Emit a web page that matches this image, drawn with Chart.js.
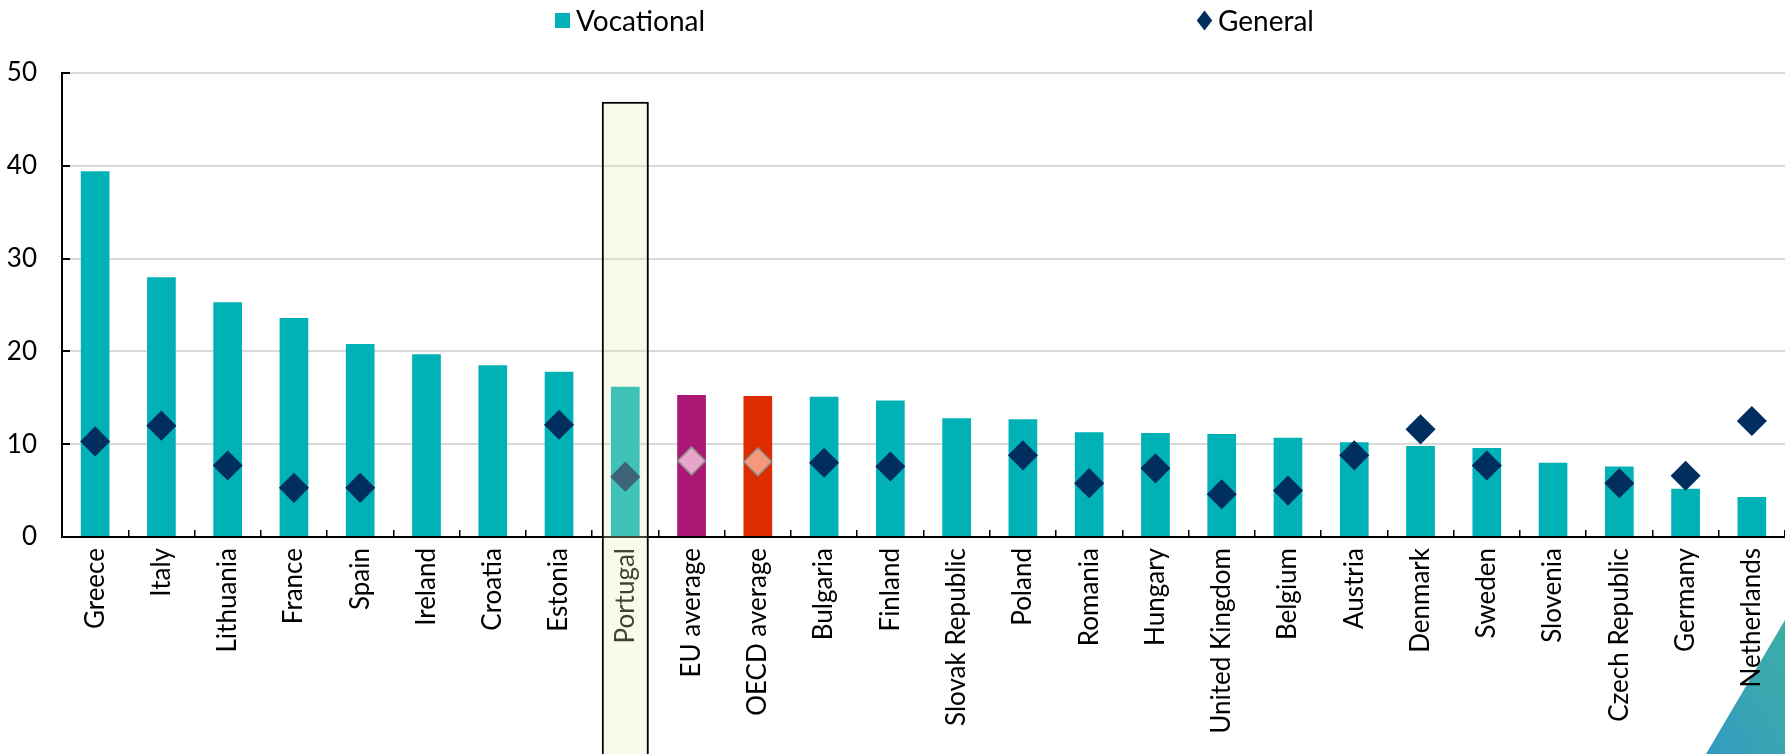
<!DOCTYPE html>
<html>
<head>
<meta charset="utf-8">
<script src="https://cdn.jsdelivr.net/npm/chart.js@4"></script>
<style>
  html, body { margin: 0; padding: 0; background: #ffffff; }
  #wrap { position: relative; width: 1785px; height: 754px; overflow: hidden; background: #ffffff; }
  #corner { position: absolute; left: 1706px; top: 620px; width: 79px; height: 134px; z-index: 0;
    clip-path: polygon(100% 0, 100% 100%, 0 100%);
    background: linear-gradient(to bottom left, #3aaea6 0%, #3aa6b0 45%, #3499c4 100%); }
  #chart { position: absolute; left: 0; top: 0; z-index: 1; }
  #legend { position: absolute; left: 0; top: 0; width: 1785px; height: 40px; z-index: 2;
    font-family: Lato, "Open Sans", sans-serif; font-size: 28px; color: #000; }
  .item { position: absolute; top: 4px; line-height: 32px; white-space: nowrap; }
  .sq { position: absolute; width: 15px; height: 15px; background: #00b2b5; top: 9px; left: 0; }
  .dm { position: absolute; width: 11px; height: 11px; background: #002f5f; top: 11px; left: 1px;
    transform: scaleY(1.3) rotate(45deg); }
  .lbl { position: absolute; left: 21px; top: 0; }
</style>
</head>
<body>
<div id="wrap">
  <div id="corner"></div>
  <canvas id="chart" width="1785" height="754"></canvas>
  <div id="legend">
    <div class="item" style="left:555px"><span class="sq"></span><span class="lbl">Vocational</span></div>
    <div class="item" style="left:1198px"><span class="dm"></span><span class="lbl" style="left:20px">General</span></div>
  </div>
</div>
<script>
const categories = ['Greece','Italy','Lithuania','France','Spain','Ireland','Croatia','Estonia','Portugal','EU average','OECD average','Bulgaria','Finland','Slovak Republic','Poland','Romania','Hungary','United Kingdom','Belgium','Austria','Denmark','Sweden','Slovenia','Czech Republic','Germany','Netherlands'];
const vocational = [39.4, 28.0, 25.3, 23.6, 20.8, 19.7, 18.5, 17.8, 16.2, 15.3, 15.2, 15.1, 14.7, 12.8, 12.7, 11.3, 11.2, 11.1, 10.7, 10.2, 9.8, 9.6, 8.0, 7.6, 5.2, 4.3];
const general = [10.3, 12.0, 7.7, 5.3, 5.3, null, null, 12.1, 6.5, 8.2, 8.1, 8.0, 7.6, null, 8.8, 5.8, 7.4, 4.6, 5.0, 8.8, 11.6, 7.7, null, 5.8, 6.6, 12.5];
const yTicks = [0, 10, 20, 30, 40, 50];
const highlightCategory = 'Portugal';
const highlightTop = 46.9;

const TEAL = '#00b2b5', NAVY = '#002f5f';
const barColors = categories.map(c => c === 'EU average' ? '#aa1774' : c === 'OECD average' ? '#dd2d00' : TEAL);
const dotColors = categories.map(c => c === 'EU average' ? '#e9a5c9' : c === 'OECD average' ? '#f4997c' : NAVY);
const dotBorders = categories.map(c => (c === 'EU average' || c === 'OECD average') ? '#8a8a8a' : NAVY);
const highlightData = categories.map(c => c === highlightCategory ? [-40, highlightTop] : null);

const FONT = 'Lato';

function draw() {
  new Chart(document.getElementById('chart'), {
    type: 'bar',
    data: {
      labels: categories,
      datasets: [
        {
          label: 'highlight',
          data: highlightData,
          backgroundColor: 'rgba(222, 240, 185, 0.28)',
          borderColor: '#000000',
          borderWidth: 2,
          borderSkipped: false,
          grouped: false,
          barPercentage: 0.71,
          categoryPercentage: 1,
          clip: false,
          order: 0
        },
        {
          type: 'line',
          label: 'General',
          data: general,
          showLine: false,
          pointStyle: 'rectRot',
          pointRadius: 14,
          pointBackgroundColor: dotColors,
          pointBorderColor: dotBorders,
          pointBorderWidth: 1.5,
          order: 1
        },
        {
          label: 'Vocational',
          data: vocational,
          backgroundColor: barColors,
          borderWidth: 0,
          grouped: false,
          barPercentage: 0.433,
          categoryPercentage: 1,
          order: 2
        }
      ]
    },
    options: {
      responsive: false,
      animation: false,
      devicePixelRatio: 1,
      layout: { autoPadding: false, padding: { top: 73, right: 0, left: 0, bottom: 0 } },
      plugins: { legend: { display: false }, tooltip: { enabled: false } },
      scales: {
        x: {
          offset: true,
          grid: { offset: true, drawOnChartArea: false, drawTicks: true, tickLength: -7, color: '#000000', lineWidth: 1.5 },
          border: { color: '#000000', width: 2 },
          ticks: { autoSkip: false, maxRotation: 90, minRotation: 90, padding: 18, color: '#000000',
                   font: { family: FONT, size: 26 } },
          afterFit: s => { s.height = 217; s.paddingLeft = 0; s.paddingRight = 0; }
        },
        y: {
          min: yTicks[0],
          max: yTicks[yTicks.length - 1],
          afterBuildTicks: s => { s.ticks = yTicks.map(v => ({ value: v })); },
          grid: { color: '#d9d9d9', lineWidth: 2, tickColor: '#000000', tickLength: -8 },
          border: { color: '#000000', width: 2 },
          ticks: { padding: 33, color: '#000000', font: { family: FONT, size: 26 } },
          afterFit: s => { s.width = 62; }
        }
      }
    }
  });
}
if (document.fonts && document.fonts.load) {
  Promise.all([document.fonts.load('26px Lato'), document.fonts.load('28px Lato')]).then(draw, draw);
} else { draw(); }
</script>
</body>
</html>
